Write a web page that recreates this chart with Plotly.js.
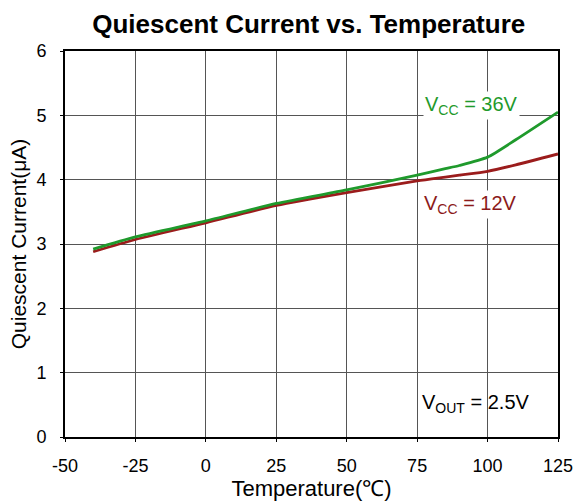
<!DOCTYPE html>
<html>
<head>
<meta charset="utf-8">
<script src="https://cdn.plot.ly/plotly-3.0.1.min.js"></script>
<style>html,body{margin:0;padding:0;background:#fff;}#chart{width:576px;height:503px;}</style>
</head>
<body>
<div id="chart"></div>
<script>
const temps = [-40, -25, 0, 25, 50, 75, 85, 90, 100, 110, 125];
const vcc12 = [2.88, 3.07, 3.33, 3.60, 3.80, 3.98, 4.04, 4.07, 4.13, 4.23, 4.40];
const vcc36 = [2.92, 3.11, 3.36, 3.63, 3.84, 4.07, 4.17, 4.22, 4.35, 4.62, 5.05];
const xTicks = [-50, -25, 0, 25, 50, 75, 100, 125];
const yTicks = [0, 1, 2, 3, 4, 5, 6];

const font = "Liberation Sans, Arial, sans-serif";
const traces = [
  {x: temps, y: vcc12, mode: 'lines', line: {color: '#9b1c1c', width: 2.8, shape: 'spline', smoothing: 0.6}, name: 'VCC = 12V', hoverinfo: 'skip'},
  {x: temps, y: vcc36, mode: 'lines', line: {color: '#1f9a2c', width: 2.8, shape: 'spline', smoothing: 0.6}, name: 'VCC = 36V', hoverinfo: 'skip'}
];
const layout = {
  width: 576, height: 503,
  margin: {l: 65, r: 18, t: 51, b: 66},
  paper_bgcolor: '#fff', plot_bgcolor: '#fff',
  showlegend: false,
  font: {family: font, color: '#000'},
  title: {text: '<b>Quiescent Current vs. Temperature</b>', font: {size: 26, family: font, color: '#000'}, x: 0.536, xanchor: 'center', y: 0.952, yanchor: 'middle'},
  xaxis: {
    range: [-50, 125], tickvals: xTicks, ticktext: xTicks.map(String),
    showgrid: true, gridcolor: '#555', gridwidth: 1, zeroline: false,
    showline: true, linecolor: '#000', linewidth: 2, mirror: true,
    ticks: 'outside', ticklen: 3, tickcolor: '#000', ticklabelstandoff: 8,
    tickfont: {size: 18, family: font, color: '#000'},
    title: {text: 'Temperature(℃)', font: {size: 22, family: font, color: '#000'}, standoff: 3}
  },
  yaxis: {
    range: [0, 6], tickvals: yTicks, ticktext: yTicks.map(String),
    showgrid: true, gridcolor: '#555', gridwidth: 1, zeroline: false,
    showline: true, linecolor: '#000', linewidth: 2, mirror: true,
    ticks: 'outside', ticklen: 3, tickcolor: '#000', ticklabelstandoff: 10,
    tickfont: {size: 18, family: font, color: '#000'},
    title: {text: 'Quiescent Current(μA)', font: {size: 21, family: font, color: '#000'}, standoff: 4}
  },
  annotations: [
    {x: 94.4, y: 5.16, xref: 'x', yref: 'y', text: 'V<sub>CC</sub> = 36V', showarrow: false, font: {size: 20, family: font, color: '#1f9a2c'}, bgcolor: '#fff', borderpad: 1},
    {x: 94.0, y: 3.62, xref: 'x', yref: 'y', text: 'V<sub>CC</sub> = 12V', showarrow: false, font: {size: 20, family: font, color: '#8b1a1a'}, bgcolor: '#fff', borderpad: 1},
    {x: 95.8, y: 0.52, xref: 'x', yref: 'y', text: 'V<sub>OUT</sub> = 2.5V', showarrow: false, font: {size: 20, family: font, color: '#000'}}
  ]
};
Plotly.newPlot('chart', traces, layout, {staticPlot: true, displayModeBar: false});
</script>
</body>
</html>
